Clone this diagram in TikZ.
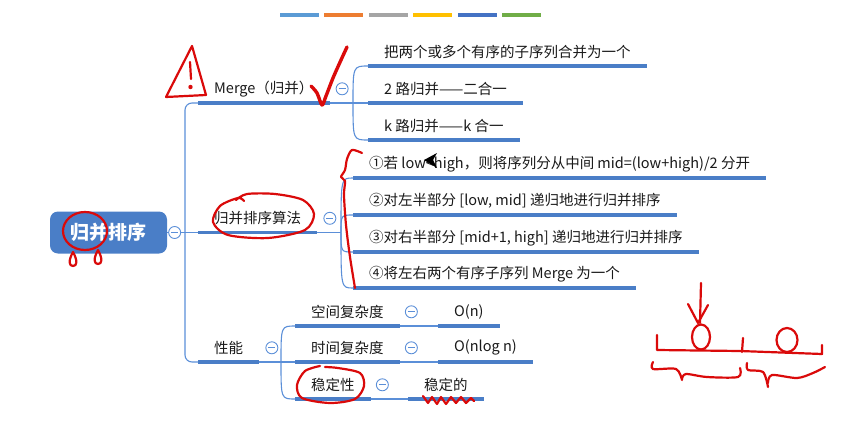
\documentclass[tikz,border=0pt]{standalone}
\usepackage{fontspec}
\setmainfont{Noto Sans CJK SC}
\usetikzlibrary{positioning,calc}
\definecolor{mmblue}{HTML}{4A7EC7}
\definecolor{mmline}{HTML}{5B8FD8}
\definecolor{inkred}{HTML}{DA0A0A}
\definecolor{barA}{HTML}{5B9BD5}
\definecolor{barB}{HTML}{ED7D31}
\definecolor{barC}{HTML}{A5A5A5}
\definecolor{barD}{HTML}{FFC000}
\definecolor{barE}{HTML}{4472C4}
\definecolor{barF}{HTML}{70AD47}
\newcommand{\topicfont}{\fontsize{14.5}{17}\selectfont}

\begin{document}
\begin{tikzpicture}[x=1pt, y=-1pt,
  rootbox/.style={fill=mmblue, rounded corners=8pt, minimum width=117pt, minimum height=42pt,
    text=white, font=\fontsize{19}{22}\selectfont\bfseries},
  topic/.style={anchor=south west, inner xsep=16pt, inner ysep=0pt, minimum height=28pt,
    font=\topicfont, text=black!90},
  uline/.style={mmblue, line width=3.2pt},
  conn/.style={mmline, line width=1.1pt},
  fold/.style={circle, draw=mmline, fill=white, line width=0.9pt, minimum size=12pt, inner sep=0pt,
    path picture={\draw[mmline, line width=0.9pt]
      ([xshift=-3.5pt]path picture bounding box.center) -- ([xshift=3.5pt]path picture bounding box.center);}},
  ink/.style={draw=inkred, line width=2.2pt, line cap=round, line join=round}]
  \useasboundingbox (0,0) rectangle (862,431);

  % colour bars
  \foreach \c [count=\i from 0] in {barA,barB,barC,barD,barE,barF}
    \fill[\c] ({280+44.4*\i},12.5) rectangle ++(39,4);

  % root and first level
  \node[rootbox] (root) at (108.5,232.5) {归并排序};
  \node[topic] (merge) at (198,103) {Merge（归并）};
  \node[topic] (algo) at (198,232.5) {归并排序算法};
  \node[topic] (perf) at (198,362) {性能};

  % merge
  \node[topic] (m1) at (368,66) {把两个或多个有序的子序列合并为一个};
  \node[topic] (m2) at (368,103) {2 路归并——二合一};
  \node[topic] (m3) at (368,140) {k 路归并——k 合一};

  % algorithm
  \node[topic] (a1) at (353,178) {①若 low<high，则将序列分从中间 mid=(low+high)/2 分开};
  \node[topic] (a2) at (353,215) {②对左半部分 [low, mid] 递归地进行归并排序};
  \node[topic] (a3) at (353,252) {③对右半部分 [mid+1, high] 递归地进行归并排序};
  \node[topic] (a4) at (353,288) {④将左右两个有序子序列 Merge 为一个};

  % performance
  \node[topic] (s1) at (295,326) {空间复杂度};
  \node[topic] (s2) at (295,362) {时间复杂度};
  \node[topic] (s3) at (295,399) {稳定性};
  \node[topic] (l1) at (438,326) {O(n)};
  \node[topic] (l2) at (438,362) {O(nlog n)};
  \node[topic] (l3) at (408,399) {稳定的};

  \foreach \n in {merge,algo,perf,m1,m2,m3,a1,a2,a3,a4,s1,s2,s3,l1,l2,l3}
    \draw[uline] (\n.south west) -- (\n.south east);

  % connectors
  \coordinate (j0) at (185,232.5);
  \coordinate (mj) at (353,103);
  \coordinate (aj) at (341,232.5);
  \coordinate (pj) at (281,362);
  \draw[conn] (root.east) -- (j0) -- (algo.south west);
  \draw[conn, rounded corners=7pt] (merge.south west) -| (j0) |- (perf.south west);
  \draw[conn] (merge.south east) -- (mj);
  \foreach \c in {m1,m2,m3}
    \draw[conn] (mj) .. controls (mj |- \c.south west) .. (\c.south west);
  \draw[conn] (algo.south east) -- (aj);
  \foreach \c in {a1,a2,a3,a4}
    \draw[conn] (aj) .. controls (aj |- \c.south west) .. (\c.south west);
  \draw[conn] (perf.south east) -- (pj);
  \foreach \c in {s1,s2,s3}
    \draw[conn] (pj) .. controls (pj |- \c.south west) .. (\c.south west);
  \draw[conn] (s1.south east) -- (l1.south west);
  \draw[conn] (s2.south east) -- (l2.south west);
  \draw[conn] (s3.south east) -- (l3.south west);

  % fold buttons
  \node[fold, right=1pt of root] (f0) {};
  \node[fold, right=6pt of merge] (f1) {};
  \node[fold, right=6pt of algo] (f2) {};
  \node[fold, right=6pt of perf] (f3) {};
  \node[fold, right=5pt of s1] (f4) {};
  \node[fold, right=5pt of s2] (f5) {};
  \node[fold, right=5pt of s3] (f6) {};

  % mouse pointer
  \fill[black] (424,160) -- (437,153) -- (433,160) -- (437,168) -- cycle;

  % red handwriting
  \draw[ink] (192,46) -- (166,97) -- (206,95) -- cycle;
  \draw[ink] (190,62) -- (191,79);
  \fill[inkred] (190.5,87) circle (2.2);
  \draw[ink, line width=3.4pt] plot[smooth] coordinates {(311,86) (317,93) (322,105) (326,96) (333,78) (341,60) (347,47)};
  \draw[ink] (85,231) ellipse [x radius=22, y radius=19];
  \draw[ink] (73,252) .. controls (68,261) and (69,266) .. (73,266) .. controls (77,266) and (78,261) .. (73,252);
  \draw[ink] (98,250) .. controls (93,259) and (94,264) .. (98,264) .. controls (102,264) and (103,259) .. (98,250);
  \draw[ink] plot[smooth] coordinates {(236,200) (247,194) (275,194) (303,200) (314,214) (305,230) (268,238) (228,235) (213,222) (220,206) (238,198) (244,201)};
  \draw[ink] plot[smooth] coordinates {(362,153) (352,150) (347,159) (345,170) (341,177) (345,181) (344,195) (346,225) (350,257) (355,288)};
  \draw[ink] plot[smooth] coordinates {(325,367) (338,368) (360,373) (364,386) (355,399) (330,403) (302,398) (297,385) (305,371) (320,366)};
  \draw[ink] plot coordinates {(423,396) (428,403) (432,397) (437,404) (441,397) (446,404) (451,397) (456,403) (461,397) (466,403) (471,398) (474,401)};

  % red sketch on the right
  \draw[ink] (701,283) -- (700,323);
  \draw[ink] (688,304) -- (698,323) -- (708,305);
  \draw[ink] (701,337) ellipse [x radius=9, y radius=12.5];
  \draw[ink] (787,340) ellipse [x radius=10.5, y radius=12];
  \draw[ink] (657,335) -- (657,350) -- (740,351) -- (822,354) -- (822,345);
  \draw[ink] (743,338) -- (742,352);
  \draw[ink] plot[smooth] coordinates {(653,362) (653,369) (676,369) (682,380)};
  \draw[ink] plot[smooth] coordinates {(682,379) (686,374) (707,377) (738,377) (740,368)};
  \draw[ink] plot[smooth] coordinates {(747,363) (748,370) (763,372) (768,387)};
  \draw[ink] plot[smooth] coordinates {(768,383) (772,375) (797,378) (813,373) (825,367)};
\end{tikzpicture}
\end{document}
